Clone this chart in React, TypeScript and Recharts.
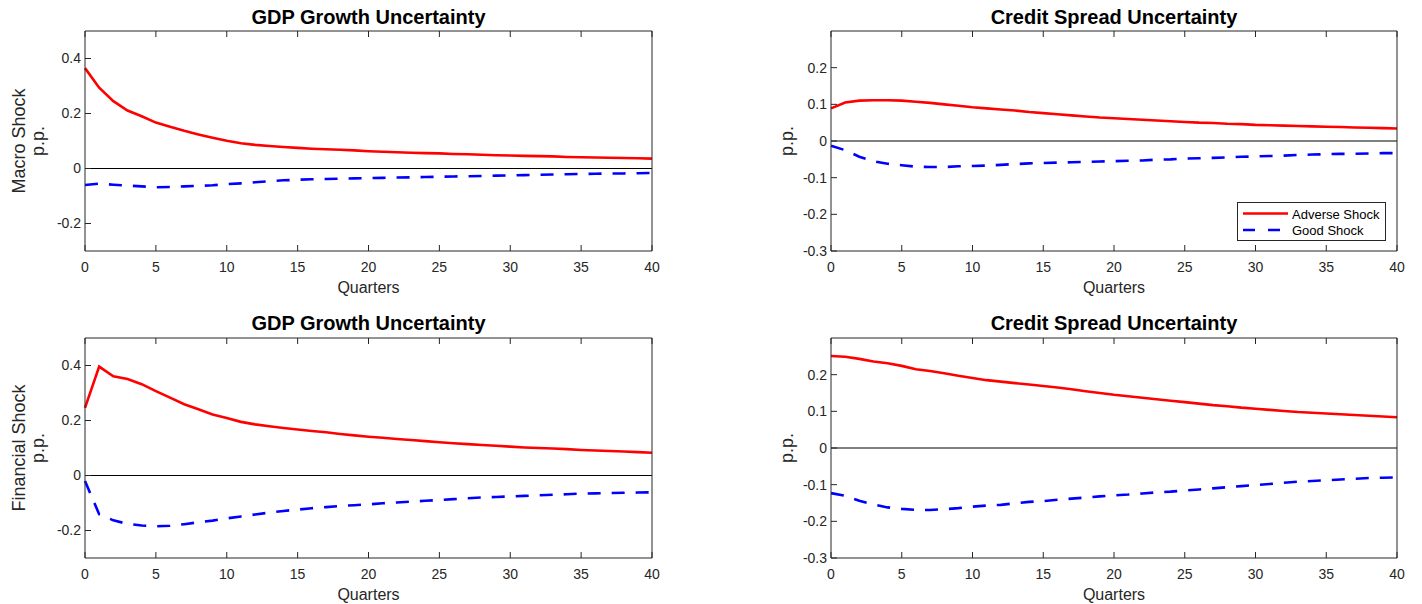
import React from "react";
import { LineChart, Line, XAxis, YAxis, ReferenceLine } from "recharts";

// quarters after the shock
const quarters = [
  0, 1, 2, 3, 4, 5, 6, 7, 8, 9, 10, 11, 12, 13, 14, 15, 16, 17, 18, 19, 20,
  21, 22, 23, 24, 25, 26, 27, 28, 29, 30, 31, 32, 33, 34, 35, 36, 37, 38, 39, 40,
];

const xTicks = [0, 5, 10, 15, 20, 25, 30, 35, 40];
const gdpTicks = [-0.2, 0, 0.2, 0.4];
const spreadTicks = [-0.3, -0.2, -0.1, 0, 0.1, 0.2];

// macro shock
const macroGdpAdverse = [
  0.365, 0.294, 0.245, 0.211, 0.19, 0.167, 0.152, 0.137, 0.124, 0.112, 0.101,
  0.092, 0.086, 0.082, 0.078, 0.075, 0.072, 0.07, 0.068, 0.066, 0.063, 0.061,
  0.059, 0.057, 0.056, 0.055, 0.053, 0.052, 0.05, 0.048, 0.047, 0.046, 0.045,
  0.044, 0.042, 0.041, 0.04, 0.039, 0.038, 0.037, 0.036,
];
const macroGdpGood = [
  -0.06, -0.055, -0.059, -0.062, -0.065, -0.068, -0.067, -0.065, -0.063, -0.061,
  -0.057, -0.054, -0.05, -0.046, -0.043, -0.041, -0.039, -0.038, -0.037, -0.036,
  -0.035, -0.034, -0.033, -0.032, -0.031, -0.03, -0.029, -0.028, -0.027, -0.026,
  -0.025, -0.024, -0.023, -0.022, -0.021, -0.02, -0.019, -0.018, -0.018, -0.017,
  -0.016,
];
const macroSpreadAdverse = [
  0.089, 0.105, 0.11, 0.111, 0.111, 0.11, 0.107, 0.104, 0.1, 0.096, 0.092,
  0.089, 0.086, 0.083, 0.079, 0.076, 0.073, 0.07, 0.067, 0.064, 0.062, 0.06,
  0.058, 0.056, 0.054, 0.052, 0.05, 0.049, 0.047, 0.046, 0.044, 0.043, 0.042,
  0.041, 0.04, 0.039, 0.038, 0.037, 0.036, 0.035, 0.034,
];
const macroSpreadGood = [
  -0.013, -0.025, -0.043, -0.055, -0.062, -0.066, -0.07, -0.071, -0.071, -0.069,
  -0.068, -0.067, -0.065, -0.063, -0.061, -0.06, -0.059, -0.058, -0.057, -0.056,
  -0.055, -0.054, -0.053, -0.051, -0.05, -0.048, -0.047, -0.046, -0.045, -0.043,
  -0.042, -0.041, -0.04, -0.038, -0.037, -0.036, -0.035, -0.035, -0.034, -0.033,
  -0.033,
];

// financial shock
const finGdpAdverse = [
  0.246, 0.396, 0.361, 0.351, 0.332, 0.307, 0.283, 0.259, 0.241, 0.222, 0.209,
  0.195, 0.186, 0.179, 0.173, 0.167, 0.162, 0.157, 0.151, 0.146, 0.141, 0.137,
  0.133, 0.129, 0.125, 0.121, 0.117, 0.114, 0.111, 0.108, 0.105, 0.102, 0.1,
  0.098, 0.096, 0.093, 0.091, 0.089, 0.087, 0.085, 0.083,
];
const finGdpGood = [
  -0.02, -0.141, -0.163, -0.176, -0.182, -0.185, -0.183, -0.177, -0.17, -0.164,
  -0.156, -0.149, -0.142, -0.135, -0.129, -0.124, -0.119, -0.115, -0.111, -0.108,
  -0.105, -0.101, -0.098, -0.095, -0.092, -0.089, -0.086, -0.083, -0.08, -0.078,
  -0.076, -0.074, -0.072, -0.07, -0.068, -0.066, -0.065, -0.064, -0.063, -0.062,
  -0.061,
];
const finSpreadAdverse = [
  0.251, 0.249, 0.243, 0.236, 0.231, 0.224, 0.215, 0.21, 0.204, 0.197, 0.191,
  0.185, 0.181, 0.177, 0.173, 0.169, 0.165, 0.16, 0.155, 0.15, 0.145, 0.141,
  0.137, 0.133, 0.129, 0.125, 0.121, 0.117, 0.114, 0.11, 0.107, 0.104, 0.101,
  0.098, 0.096, 0.094, 0.092, 0.09, 0.088, 0.086, 0.084,
];
const finSpreadGood = [
  -0.123, -0.13, -0.144, -0.154, -0.162, -0.166, -0.169, -0.169, -0.167, -0.164,
  -0.16, -0.157, -0.155, -0.151, -0.147, -0.145, -0.141, -0.138, -0.135, -0.132,
  -0.129, -0.127, -0.124, -0.121, -0.119, -0.116, -0.113, -0.11, -0.107, -0.104,
  -0.101, -0.098, -0.095, -0.092, -0.09, -0.088, -0.086, -0.084, -0.082, -0.081,
  -0.08,
];

const AXIS = "#262626";
const RED = "#ff0000";
const BLUE = "#0000ff";
const DASH = "13 11";
const FONT = '"Liberation Sans", Arial, Helvetica, sans-serif';

const PLOT_H = 220;

const Panel = ({ left, top, plotW, adverse, good, domain, ticks }: any) => {
  const data = quarters.map((q, i) => ({ q, adverse: adverse[i], good: good[i] }));
  const W = plotW + 85 + 20;
  const H = PLOT_H + 31 + 50;
  return (
    <div style={{ position: "absolute", left: left - 85, top: top - 31 }}>
      <LineChart
        width={W}
        height={H}
        data={data}
        margin={{ top: 26, right: 15, bottom: 20, left: 25 }}
      >
        <XAxis
          xAxisId="b"
          type="number"
          dataKey="q"
          domain={[0, 40]}
          ticks={xTicks}
          interval={0}
          height={30}
          tickSize={-6}
          tickMargin={17}
          stroke={AXIS}
          tick={{ fill: AXIS, fontSize: 14 }}
        />
        <XAxis
          xAxisId="t"
          orientation="top"
          type="number"
          dataKey="q"
          domain={[0, 40]}
          ticks={xTicks}
          interval={0}
          height={5}
          tickSize={-6}
          stroke={AXIS}
          tickFormatter={() => ""}
        />
        <YAxis
          yAxisId="l"
          type="number"
          domain={domain}
          ticks={ticks}
          interval={0}
          width={60}
          tickSize={-6}
          tickMargin={10}
          stroke={AXIS}
          tick={{ fill: AXIS, fontSize: 14 }}
        />
        <YAxis
          yAxisId="r"
          orientation="right"
          type="number"
          domain={domain}
          ticks={ticks}
          interval={0}
          width={5}
          tickSize={-6}
          stroke={AXIS}
          tickFormatter={() => ""}
        />
        <ReferenceLine xAxisId="b" yAxisId="l" y={0} stroke="#000" strokeWidth={1} />
        <Line
          xAxisId="b"
          yAxisId="l"
          type="linear"
          dataKey="adverse"
          stroke={RED}
          strokeWidth={2.6}
          dot={false}
          isAnimationActive={false}
        />
        <Line
          xAxisId="b"
          yAxisId="l"
          type="linear"
          dataKey="good"
          stroke={BLUE}
          strokeWidth={2.6}
          strokeDasharray={DASH}
          dot={false}
          isAnimationActive={false}
        />
      </LineChart>
    </div>
  );
};

const App = () => {
  const leftX = 85;
  const rightX = 831;
  const topY = 31;
  const botY = 338;
  return (
    <div
      style={{
        position: "absolute",
        left: 0,
        top: 0,
        width: 1422,
        height: 604,
        background: "#fff",
        fontFamily: FONT,
      }}
    >
      <Panel left={leftX} top={topY} plotW={567} adverse={macroGdpAdverse} good={macroGdpGood} domain={[-0.3, 0.5]} ticks={gdpTicks} />
      <Panel left={rightX} top={topY} plotW={566} adverse={macroSpreadAdverse} good={macroSpreadGood} domain={[-0.3, 0.3]} ticks={spreadTicks} />
      <Panel left={leftX} top={botY} plotW={567} adverse={finGdpAdverse} good={finGdpGood} domain={[-0.3, 0.5]} ticks={gdpTicks} />
      <Panel left={rightX} top={botY} plotW={566} adverse={finSpreadAdverse} good={finSpreadGood} domain={[-0.3, 0.3]} ticks={spreadTicks} />

      <svg
        width={1422}
        height={604}
        style={{ position: "absolute", left: 0, top: 0, pointerEvents: "none" }}
        fontFamily={FONT}
      >
        {/* titles */}
        <g fontSize={20} fontWeight="bold" fill="#000" textAnchor="middle">
          <text x={368.5} y={23.5}>GDP Growth Uncertainty</text>
          <text x={1114} y={23.5}>Credit Spread Uncertainty</text>
          <text x={368.5} y={330}>GDP Growth Uncertainty</text>
          <text x={1114} y={330}>Credit Spread Uncertainty</text>
        </g>
        {/* x labels */}
        <g fontSize={16} fill={AXIS} textAnchor="middle">
          <text x={368.5} y={293}>Quarters</text>
          <text x={1114} y={293}>Quarters</text>
          <text x={368.5} y={600}>Quarters</text>
          <text x={1114} y={600}>Quarters</text>
        </g>
        {/* y labels */}
        <g fontSize={18} fill={AXIS} textAnchor="middle">
          <text transform="translate(25,141) rotate(-90)">Macro Shock</text>
          <text transform="translate(44,141) rotate(-90)">p.p.</text>
          <text transform="translate(25,448) rotate(-90)">Financial Shock</text>
          <text transform="translate(44,448) rotate(-90)">p.p.</text>
          <text transform="translate(792.5,141) rotate(-90)">p.p.</text>
          <text transform="translate(792.5,448) rotate(-90)">p.p.</text>
        </g>
        {/* legend */}
        <g>
          <rect x={1237.5} y={202.5} width={148} height={38} fill="#fff" stroke={AXIS} strokeWidth={1} />
          <line x1={1243} x2={1288} y1={213.5} y2={213.5} stroke={RED} strokeWidth={2.6} />
          <text x={1292} y={218.5} fontSize={13} fill="#000">Adverse Shock</text>
          <line x1={1243} x2={1288} y1={230} y2={230} stroke={BLUE} strokeWidth={2.6} strokeDasharray="12 13" />
          <text x={1292} y={235} fontSize={13} fill="#000">Good Shock</text>
        </g>
      </svg>
    </div>
  );
};

export default App;
